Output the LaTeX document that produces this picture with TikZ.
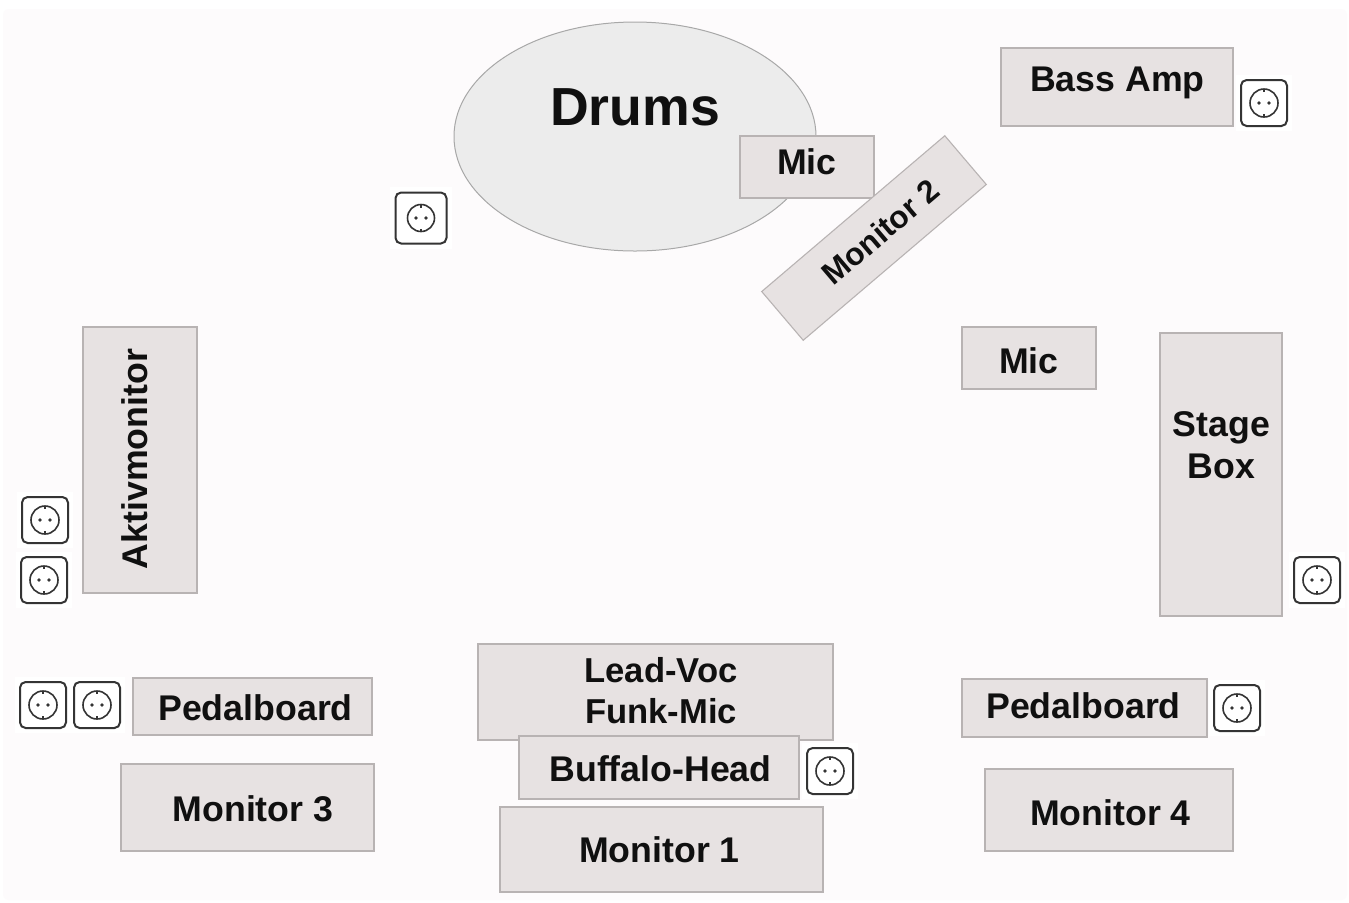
\documentclass[tikz,border=0pt]{standalone}
\usepackage{fontspec}
\usetikzlibrary{shapes.geometric}
\setmainfont{Liberation Sans}
\definecolor{pagebg}{HTML}{FDFBFC}
\definecolor{boxfill}{HTML}{E7E2E2}
\definecolor{boxline}{HTML}{B8B3B3}
\definecolor{drumfill}{HTML}{ECECEC}
\definecolor{drumline}{HTML}{A8A8A8}
\definecolor{ink}{HTML}{101010}
\tikzset{
  stagebox/.style={draw=boxline,fill=boxfill,line width=0.55pt,inner sep=0pt,outer sep=0pt},
  boxlabel/.style={font=\fontsize{17.85pt}{21pt}\selectfont\bfseries,text=ink,align=center,inner sep=0pt},
  sockethalo/.style={fill=white,draw=none,inner sep=0pt,minimum size=#1*1.2pt},
  socketframe/.style={draw=ink!85,fill=white,rounded corners=2.8pt,line width=1pt,inner sep=0pt,minimum size=#1*0.5pt}
}
% \sock{name}{x}{y}{size in px}{circle radius}
\newcommand{\sock}[5]{%
  \node[sockethalo=#4/2] at (#2,#3) {};
  \node[socketframe=#4] (#1) at (#2,#3) {};
  \begin{scope}[shift={(#2,#3)}]
    \draw[ink!85,line width=0.8pt] (0,0) circle (#5);
    \draw[ink!85,line width=0.6pt] (0,-#5) -- +(0,3) (0,#5) -- +(0,-3);
    \fill[ink!85] (-5,0) circle (1.8) (5,0) circle (1.8);
  \end{scope}}
% \bx{name}{x1}{y1}{x2}{y2}
\newcommand{\bx}[5]{%
  \node[stagebox,minimum width={(#4-#2)*0.5pt},minimum height={(#5-#3)*0.5pt}] (#1) at ({(#2+#4)/2},{(#3+#5)/2}) {};}
\begin{document}
\begin{tikzpicture}[x=0.5pt,y=-0.5pt]
\useasboundingbox (0,0) rectangle (1349,902);
\fill[white] (0,0) rectangle (1349,902);
\fill[pagebg,rounded corners=3pt] (3,9) rectangle (1347,900);

\node[draw=drumline,fill=drumfill,ellipse,line width=0.5pt,inner sep=0pt,minimum width=181pt,minimum height=114.5pt] (drums) at (635,136.5) {};
\node[font=\fontsize{26.8pt}{30pt}\selectfont\bfseries,text=ink,inner sep=0pt] (drumstext) at (635,107.5) {Drums};

\bx{bass}{1001}{48}{1233}{126}
\node[boxlabel] (basst) at (1117.5,83) {Bass Amp};
\bx{micA}{740}{136}{874}{198}
\node[boxlabel] (micAt) at (807,161.5) {Mic};

\node[stagebox,rotate=40.4,minimum width=120.2pt,minimum height=32pt] (mon2) at (874,238) {};
\node[boxlabel,rotate=40.4,font=\fontsize{15.8pt}{18pt}\selectfont\bfseries] (mon2t) at (880.5,232) {Monitor 2};

\bx{micB}{962}{327}{1096}{389}
\node[boxlabel] (micBt) at (1029,360.5) {Mic};
\bx{stage}{1160}{333}{1282}{616}
\node[boxlabel] (staget) at (1221.5,445.5) {Stage\\Box};
\bx{aktiv}{83}{327}{197}{593}
\node[boxlabel,rotate=90] (aktivt) at (134.5,459) {Aktivmonitor};
\bx{pedL}{133}{678}{372}{735}
\node[boxlabel] (pedLt) at (255.5,707.5) {Pedalboard};
\bx{mon3}{121}{764}{374}{851}
\node[boxlabel] (mon3t) at (253,808.5) {Monitor 3};
\bx{lead}{478}{644}{833}{740}
\node[boxlabel,font=\fontsize{17.3pt}{20.5pt}\selectfont\bfseries] (leadt) at (661,690.5) {Lead-Voc\\Funk-Mic};
\bx{buff}{519}{736}{799}{799}
\node[boxlabel] (bufft) at (660.5,768.5) {Buffalo-Head};
\bx{mon1}{500}{807}{823}{892}
\node[boxlabel] (mon1t) at (659.5,849.5) {Monitor 1};
\bx{pedR}{962}{679}{1207}{737}
\node[boxlabel] (pedRt) at (1083.5,705.5) {Pedalboard};
\bx{mon4}{985}{769}{1233}{851}
\node[boxlabel] (mon4t) at (1110.5,812.5) {Monitor 4};

\sock{s1}{421}{218}{51}{13.5}
\sock{s2}{1264}{103}{46}{14}
\sock{s3}{45}{520}{46}{14}
\sock{s4}{44}{580}{46}{14}
\sock{s5}{43}{705}{46}{14}
\sock{s6}{97}{705}{46}{14}
\sock{s7}{830}{771}{46}{14}
\sock{s8}{1317}{580}{46}{14}
\sock{s9}{1237}{708}{46}{14}
\end{tikzpicture}
\end{document}
